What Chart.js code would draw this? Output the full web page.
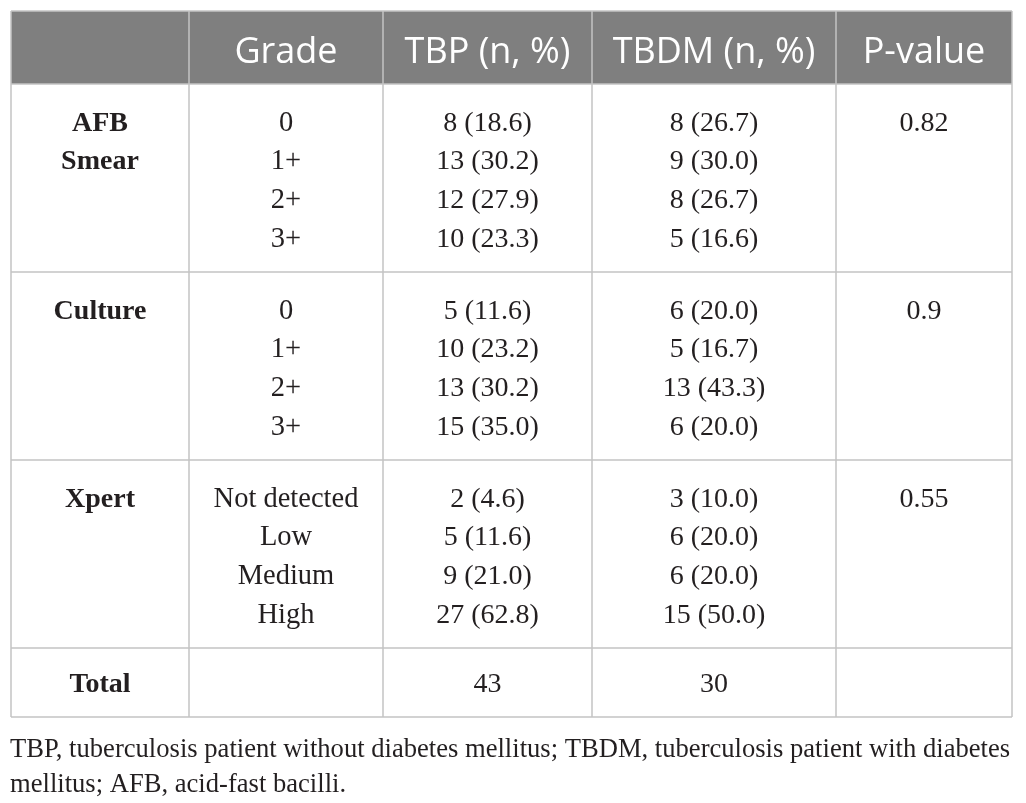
<!DOCTYPE html>
<html>
<head>
<meta charset="utf-8">
<script src="https://cdn.jsdelivr.net/npm/chart.js@4/dist/chart.umd.min.js"></script>
<style>
  html, body { margin: 0; padding: 0; background: #ffffff; }
</style>
</head>
<body>
<canvas id="gradeTable" width="1026" height="803"></canvas>
<script>
// Table content
const headers = ['Grade', 'TBP (n, %)', 'TBDM (n, %)', 'P-value'];
const groupLabels = [['AFB', 'Smear'], ['Culture'], ['Xpert']];
const grades = [
    ['0', '1+', '2+', '3+'],
    ['0', '1+', '2+', '3+'],
    ['Not detected', 'Low', 'Medium', 'High']
];
const tbpCounts = [[8, 13, 12, 10], [5, 10, 13, 15], [2, 5, 9, 27]];
const tbpPct = [[18.6, 30.2, 27.9, 23.3], [11.6, 23.2, 30.2, 35.0], [4.6, 11.6, 21.0, 62.8]];
const tbdmCounts = [[8, 9, 8, 5], [6, 5, 13, 6], [3, 6, 6, 15]];
const tbdmPct = [[26.7, 30.0, 26.7, 16.6], [20.0, 16.7, 43.3, 20.0], [10.0, 20.0, 20.0, 50.0]];
const pValues = ['0.82', '0.9', '0.55'];
const totalLabel = 'Total';
const totals = [43, 30];
const footnote = [
    'TBP, tuberculosis patient without diabetes mellitus; TBDM, tuberculosis patient with diabetes',
    'mellitus; AFB, acid-fast bacilli.'
];

// Layout (in scale units, the scales span the canvas)
const colEdges = [11, 189, 383, 592, 836, 1012];
const tableTop = 11;
const headerBottom = 84;
const sectionH = 188;
const firstRowOffset = 37;
const rowPitch = 38.8;
const totalH = 69;
const footY = [749, 784];

const SERIF = '"Liberation Serif", "DejaVu Serif", serif';
const SANS = '"Open Sans", "Noto Sans", sans-serif';
const colCenter = i => (colEdges[i] + colEdges[i + 1]) / 2;
const sectionTop = s => headerBottom + s * sectionH;
const rowY = (s, r) => sectionTop(s) + firstRowOffset + r * rowPitch;
const totalTop = sectionTop(groupLabels.length);

// Build text "points"
const headerPts = headers.map((h, i) => ({ x: colCenter(i + 1), y: 50, text: h }));
const groupPts = [];
groupLabels.forEach((lines, s) => lines.forEach((t, r) => groupPts.push({ x: colCenter(0), y: rowY(s, r), text: t })));
groupPts.push({ x: colCenter(0), y: totalTop + totalH / 2, text: totalLabel });
const gradePts = [];
const tbpPts = [];
const tbdmPts = [];
grades.forEach((g, s) => g.forEach((t, r) => {
    gradePts.push({ x: colCenter(1), y: rowY(s, r), text: t });
    tbpPts.push({ x: colCenter(2), y: rowY(s, r), text: `${tbpCounts[s][r]} (${tbpPct[s][r].toFixed(1)})` });
    tbdmPts.push({ x: colCenter(3), y: rowY(s, r), text: `${tbdmCounts[s][r]} (${tbdmPct[s][r].toFixed(1)})` });
}));
totals.forEach((v, i) => {
    const p = { x: colCenter(2 + i), y: totalTop + totalH / 2, text: String(v) };
    (i === 0 ? tbpPts : tbdmPts).push(p);
});
const pPts = pValues.map((p, s) => ({ x: colCenter(4), y: rowY(s, 0), text: p }));
const footPts = footnote.map((t, i) => ({ x: 10, y: footY[i], text: t }));

function textSet(data, font, size, color, align, family, shift) {
    return { data, font, size, color, align, family, shift, pointRadius: 0, pointHoverRadius: 0 };
}

// Grid, header band and cell text
const tableGrid = {
    id: 'tableGrid',
    beforeDatasetsDraw(chart) {
        const { ctx, scales: { x, y } } = chart;
        const left = x.getPixelForValue(colEdges[0]);
        const right = x.getPixelForValue(colEdges[colEdges.length - 1]);
        const top = y.getPixelForValue(tableTop);
        const hb = y.getPixelForValue(headerBottom);
        const bottom = y.getPixelForValue(totalTop + totalH);
        ctx.save();
        ctx.fillStyle = '#7f7f7f';
        ctx.fillRect(left, top, right - left, hb - top);
        ctx.strokeStyle = '#c4c4c4';
        ctx.lineWidth = 1.5;
        ctx.beginPath();
        colEdges.forEach(e => {
            const px = x.getPixelForValue(e);
            ctx.moveTo(px, top);
            ctx.lineTo(px, bottom);
        });
        const hLines = [tableTop, headerBottom];
        groupLabels.forEach((_, s) => hLines.push(sectionTop(s + 1)));
        hLines.push(totalTop + totalH);
        hLines.forEach(v => {
            const py = y.getPixelForValue(v);
            ctx.moveTo(left, py);
            ctx.lineTo(right, py);
        });
        ctx.stroke();
        ctx.restore();
    },
    afterDatasetsDraw(chart) {
        const { ctx } = chart;
        ctx.save();
        chart.data.datasets.forEach((ds, i) => {
            const meta = chart.getDatasetMeta(i);
            ctx.font = `${ds.font} ${ds.size}px ${ds.family}`;
            ctx.fillStyle = ds.color;
            ctx.textAlign = ds.align;
            ctx.textBaseline = 'alphabetic';
            meta.data.forEach((el, j) => {
                ctx.fillText(ds.data[j].text, el.x, el.y + ds.size * ds.shift);
            });
        });
        ctx.restore();
    }
};

const INK = '#231f20';
const datasets = [
    textSet(headerPts, 'normal', 36, '#ffffff', 'center', SANS, 0.36),
    textSet(groupPts, 'bold', 28, INK, 'center', SERIF, 0.34),
    textSet(gradePts, 'normal', 28.5, INK, 'center', SERIF, 0.34),
    textSet(tbpPts, 'normal', 28, INK, 'center', SERIF, 0.34),
    textSet(tbdmPts, 'normal', 28, INK, 'center', SERIF, 0.34),
    textSet(pPts, 'normal', 28, INK, 'center', SERIF, 0.34),
    textSet(footPts, 'normal', 26.6, INK, 'left', SERIF, 0.3)
];

new Chart(document.getElementById('gradeTable'), {
    type: 'scatter',
    data: { datasets },
    options: {
        responsive: false,
        animation: false,
        layout: { padding: 0 },
        plugins: { legend: { display: false }, tooltip: { enabled: false } },
        scales: {
            x: { type: 'linear', min: 0, max: 1026, display: false },
            y: { type: 'linear', min: 0, max: 803, reverse: true, display: false }
        }
    },
    plugins: [tableGrid]
});
</script>
</body>
</html>
